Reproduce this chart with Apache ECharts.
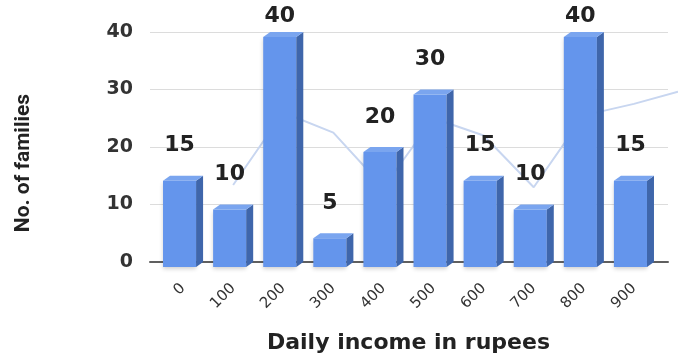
<!DOCTYPE html>
<html>
<head>
<meta charset="utf-8">
<script src="https://cdn.jsdelivr.net/npm/echarts@6/dist/echarts.min.js"></script>
<style>
html, body { margin: 0; padding: 0; background: #fff; }
#mychart { width: 678px; height: 360px; }
</style>
</head>
<body>
<div id="mychart"></div>
<script>
var domchart = document.getElementById("mychart");

var incomes = ['0', '100', '200', '300', '400', '500', '600', '700', '800', '900'];
var families = [15, 10, 40, 5, 20, 30, 15, 10, 40, 15];
// faint polygon line behind the bars (x = category index, runs off the right edge)
var trendX = [1, 2, 3, 4, 5, 6, 7, 8, 9, 9.88];
var trendY = [13.4, 26, 22.5, 13, 25, 22, 13, 25.5, 27.5, 29.6];
var yTicks = [0, 10, 20, 30, 40];

var frontColor = '#6495ec';
var sideColor = '#3f66ab';
var topColor = '#7aa5ef';

function renderBox(params, api) {
    var i = api.value(0);
    var v = api.value(1);
    var top = api.coord([i, v]);
    var base = api.coord([i, 0]);
    var band = api.size([1, 0])[0];
    var dx = 7, dy = 5;
    var w = band * 0.66;
    var left = top[0] - (w + dx) / 2;
    var right = left + w;
    var lblY = Math.max(top[1] - 30, 16);
    return {
        type: 'group',
        children: [{
            type: 'rect',
            shape: { x: left, y: top[1] + dy, width: w, height: base[1] - top[1] },
            style: { fill: frontColor, shadowColor: 'rgba(0,0,0,0.18)', shadowBlur: 4, shadowOffsetY: 2 }
        }, {
            type: 'polygon',
            shape: { points: [[right, top[1] + dy], [right + dx, top[1]], [right + dx, base[1]], [right, base[1] + dy]] },
            style: { fill: sideColor }
        }, {
            type: 'polygon',
            shape: { points: [[left, top[1] + dy], [left + dx, top[1]], [right + dx, top[1]], [right, top[1] + dy]] },
            style: { fill: topColor }
        }, {
            type: 'text',
            style: {
                x: left + w / 2,
                y: lblY,
                text: String(v),
                align: 'center',
                verticalAlign: 'middle',
                fill: '#222',
                font: 'bold 22px "DejaVu Sans"'
            }
        }]
    };
}

var option = {
    animation: false,
    backgroundColor: '#fff',
    grid: [
        { left: 158, right: 19, top: 32, bottom: 98 },
        { left: 150, right: 10, top: 32, bottom: 98 },
        { left: 158, right: 0, top: 32, bottom: 98 }
    ],
    xAxis: [{
        type: 'category',
        gridIndex: 0,
        data: incomes,
        name: 'Daily income in rupees',
        nameLocation: 'middle',
        nameGap: 70,
        nameTextStyle: { fontFamily: 'DejaVu Sans', fontWeight: 'bold', fontSize: 22, color: '#222' },
        axisLine: { show: false },
        axisTick: { show: false },
        axisLabel: {
            rotate: 45,
            margin: 24,
            fontFamily: 'DejaVu Sans',
            fontSize: 15,
            color: '#333'
        }
    }, {
        type: 'value',
        gridIndex: 1,
        min: 0,
        max: 1,
        axisLine: { show: true, lineStyle: { color: '#5f5f5f', width: 2 } },
        axisTick: { show: false },
        axisLabel: { show: false },
        splitLine: { show: false }
    }, {
        type: 'value',
        gridIndex: 2,
        min: -0.5,
        max: 9.88,
        show: false
    }],
    yAxis: [{
        type: 'value',
        gridIndex: 0,
        min: yTicks[0],
        max: yTicks[yTicks.length - 1],
        interval: 10,
        name: 'No. of families',
        nameLocation: 'middle',
        nameRotate: 90,
        nameGap: 124,
        nameTextStyle: {
            fontFamily: '"Liberation Sans Narrow", Roboto',
            fontWeight: 'bold',
            fontSize: 21,
            color: '#222',
            padding: [0, 32, 0, 0]
        },
        axisLine: { show: false },
        axisTick: { show: false },
        axisLabel: { margin: 25, fontFamily: 'DejaVu Sans', fontWeight: 'bold', fontSize: 19, color: '#333' },
        splitLine: { show: false }
    }, {
        type: 'value',
        gridIndex: 1,
        min: yTicks[0],
        max: yTicks[yTicks.length - 1],
        interval: 10,
        axisLine: { show: false },
        axisTick: { show: false },
        axisLabel: { show: false },
        splitLine: { lineStyle: { color: '#dcdcdc', width: 1 } }
    }, {
        type: 'value',
        gridIndex: 2,
        min: yTicks[0],
        max: yTicks[yTicks.length - 1],
        show: false
    }],
    series: [{
        type: 'line',
        xAxisIndex: 2,
        yAxisIndex: 2,
        data: trendX.map(function (x, i) { return [x, trendY[i]]; }),
        symbol: 'none',
        z: 1,
        lineStyle: { color: '#c8d6f0', width: 2 }
    }, {
        type: 'custom',
        xAxisIndex: 0,
        yAxisIndex: 0,
        renderItem: renderBox,
        z: 3,
        data: families.map(function (v, i) { return [i, v]; })
    }]
};

var chart = echarts.init(domchart);
chart.setOption(option);
</script>
</body>
</html>
